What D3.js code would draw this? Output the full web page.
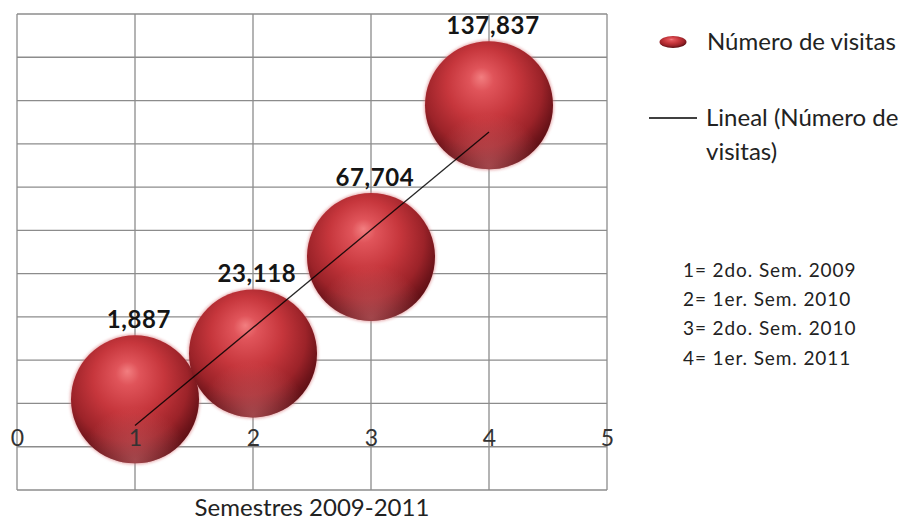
<!DOCTYPE html>
<html>
<head>
<meta charset="utf-8">
<script src="https://cdn.jsdelivr.net/npm/d3@7"></script>
<style>
  html, body { margin: 0; padding: 0; background: #fff; }
  svg { display: block; font-family: Lato, "Open Sans", sans-serif; }
</style>
</head>
<body>
<svg id="chart" width="907" height="520"></svg>
<script>
// Semesters on the x axis and visit counts per semester
const semesters = [1, 2, 3, 4];
const visits = [1887, 23118, 67704, 137837];
const xTicks = [0, 1, 2, 3, 4, 5];
const yGrid = [-40000, -20000, 0, 20000, 40000, 60000, 80000, 100000, 120000, 140000, 160000, 180000];
const seriesName = "Número de visitas";
const trendName = ["Lineal (Número de", "visitas)"];
const semesterKey = ["1= 2do. Sem. 2009", "2= 1er. Sem. 2010", "3= 2do. Sem. 2010", "4= 1er. Sem. 2011"];
const xTitle = "Semestres 2009-2011";

const svg = d3.select("#chart");
const plot = { left: 17, right: 607, top: 14, bottom: 490 };

const x = d3.scaleLinear().domain([0, 5]).range([plot.left, plot.right]);
const y = d3.scaleLinear().domain([-40000, 180000]).range([plot.bottom, plot.top]);

// Sphere shading
const defs = svg.append("defs");
const g1 = defs.append("radialGradient").attr("id", "sphere")
  .attr("cx", 0.46).attr("cy", 0.4).attr("r", 0.62)
  .attr("fx", 0.44).attr("fy", 0.28);
[[0, "#f27e80"], [0.15, "#e0545a"], [0.45, "#c6363c"], [0.74, "#9c2329"], [0.9, "#6e141a"], [1, "#580d12"]]
  .forEach(([o, c]) => g1.append("stop").attr("offset", o).attr("stop-color", c));
const g2 = defs.append("radialGradient").attr("id", "rim")
  .attr("cx", 0.5).attr("cy", 0.98).attr("r", 0.42);
g2.append("stop").attr("offset", 0).attr("stop-color", "#e07c80").attr("stop-opacity", 0.5);
g2.append("stop").attr("offset", 1).attr("stop-color", "#e07c80").attr("stop-opacity", 0);
defs.append("filter").attr("id", "glow").attr("x", -0.2).attr("y", -0.2).attr("width", 1.4).attr("height", 1.4)
  .append("feGaussianBlur").attr("stdDeviation", 1.8);

// Grid
const grid = svg.append("g").attr("stroke", "#8c8c8c").attr("stroke-width", 1.3);
grid.selectAll("line.h").data(yGrid).join("line")
  .attr("x1", plot.left).attr("x2", plot.right)
  .attr("y1", d => y(d)).attr("y2", d => y(d));
grid.selectAll("line.v").data(xTicks).join("line")
  .attr("y1", plot.top).attr("y2", plot.bottom)
  .attr("x1", d => x(d)).attr("x2", d => x(d));

// Bubbles
const R = 64;
const pts = semesters.map((s, i) => ({ s, v: visits[i] }));
const bub = svg.append("g");
bub.selectAll("circle.glow").data(pts).join("circle")
  .attr("cx", d => x(d.s)).attr("cy", d => y(d.v)).attr("r", R + 1)
  .attr("fill", "#d9767a").attr("opacity", 0.6).attr("filter", "url(#glow)");
bub.selectAll("g.b").data(pts).join("g").each(function (d) {
  const g = d3.select(this);
  g.append("circle").attr("cx", x(d.s)).attr("cy", y(d.v)).attr("r", R).attr("fill", "url(#sphere)");
  g.append("circle").attr("cx", x(d.s)).attr("cy", y(d.v)).attr("r", R).attr("fill", "url(#rim)");
});

// Linear trend (least squares)
const mx = d3.mean(semesters), my = d3.mean(visits);
const slope = d3.sum(semesters, (s, i) => (s - mx) * (visits[i] - my)) / d3.sum(semesters, s => (s - mx) ** 2);
const icpt = my - slope * mx;
const x0 = d3.min(semesters), x1 = d3.max(semesters);
svg.append("line")
  .attr("x1", x(x0)).attr("y1", y(icpt + slope * x0))
  .attr("x2", x(x1)).attr("y2", y(icpt + slope * x1))
  .attr("stroke", "#000").attr("stroke-opacity", 0.85).attr("stroke-width", 1.3);

// X axis tick labels
const axis = d3.axisBottom(x).tickValues(xTicks).tickSize(0).tickPadding(0).tickFormat(d3.format("d"));
const ag = svg.append("g").attr("transform", `translate(0,${y(-20000) - 9})`).call(axis);
ag.select(".domain").remove();
ag.selectAll("text").attr("font-family", "Lato, sans-serif").attr("font-size", 23)
  .attr("fill", "#333").attr("dy", "0.35em").attr("y", 0);

// Value labels
svg.append("g").selectAll("text").data(pts).join("text")
  .attr("x", d => x(d.s) + 4).attr("y", d => y(d.v) - 80)
  .attr("dy", "0.36em").attr("text-anchor", "middle")
  .attr("font-size", 24).attr("font-weight", "bold").attr("letter-spacing", 0.6).attr("fill", "#151515")
  .text(d => d3.format(",")(d.v));

// Axis title
svg.append("text").attr("x", 312).attr("y", 508).attr("dy", "0.35em")
  .attr("text-anchor", "middle").attr("font-size", 24).attr("fill", "#222").text(xTitle);

// Legend
const lg = svg.append("g").attr("font-size", 24).attr("fill", "#222");
lg.append("ellipse").attr("cx", 673).attr("cy", 42).attr("rx", 13.5).attr("ry", 6).attr("fill", "url(#sphere)");
lg.append("text").attr("x", 707).attr("y", 42).attr("dy", "0.35em").text(seriesName);
lg.append("line").attr("x1", 649).attr("x2", 697).attr("y1", 118).attr("y2", 118)
  .attr("stroke", "#000").attr("stroke-width", 1.3);
lg.selectAll("text.t").data(trendName).join("text")
  .attr("x", 706).attr("y", (d, i) => 118 + i * 34).attr("dy", "0.35em").text(d => d);

// Semester key
svg.append("g").attr("font-size", 19).attr("letter-spacing", 0.9).attr("fill", "#222")
  .selectAll("text").data(semesterKey).join("text")
  .attr("x", 683).attr("y", (d, i) => 270 + i * 29.3).attr("dy", "0.35em").text(d => d);
</script>
</body>
</html>
